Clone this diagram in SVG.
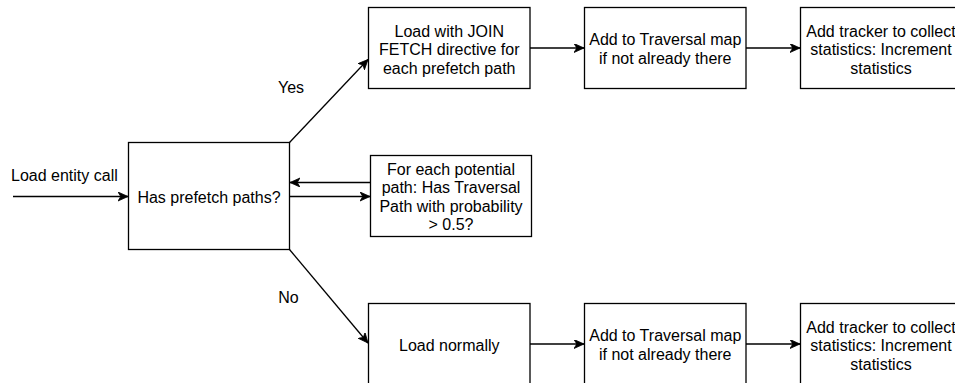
<svg xmlns="http://www.w3.org/2000/svg" width="955" height="383" viewBox="0 0 955 383">
  <style>
    .box { fill: #ffffff; stroke: #000000; stroke-width: 1.3; }
    .t { font-family: "Liberation Sans", Arial, Helvetica, sans-serif; font-size: 16px; fill: #000000; text-anchor: middle; }
    .lbl { font-family: "Liberation Sans", Arial, Helvetica, sans-serif; font-size: 16px; fill: #000000; }
    .edge { fill: none; stroke: #000000; stroke-width: 1.3; marker-end: url(#arrow); }
  </style>
  <defs>
    <marker id="arrow" markerUnits="userSpaceOnUse" markerWidth="12" markerHeight="12" refX="10" refY="4.5" orient="auto">
      <path d="M0,0 L10,4.5 L0,9 L2.8,4.5 Z" fill="#000000" stroke="#000000" stroke-width="0.8"/>
    </marker>
  </defs>
  <rect width="955" height="383" fill="#ffffff"/>

  <g id="connectors">
    <path class="edge" d="M13,196.5 L128,196.5"/>
    <path class="edge" d="M289.5,142.5 L368,59.5"/>
    <path class="edge" d="M289.5,249.5 L368,343"/>
    <path class="edge" d="M370.5,182.5 L290,182.5"/>
    <path class="edge" d="M289.5,196.5 L370,196.5"/>
    <path class="edge" d="M530,48 L584,48"/>
    <path class="edge" d="M746,48 L800,48"/>
    <path class="edge" d="M530,344 L584,344"/>
    <path class="edge" d="M746,344 L800,344"/>
    <text class="lbl" x="11" y="181">Load entity call</text>
    <text class="t" x="291" y="92.5">Yes</text>
    <text class="t" x="288.5" y="302.5">No</text>
  </g>

  <g id="n_has">
    <rect class="box" x="128.5" y="142.5" width="161" height="107"/>
    <text class="t" x="209" y="202.5">Has prefetch paths?</text>
  </g>

  <g id="n_join">
    <rect class="box" x="368.5" y="7.5" width="161.5" height="81"/>
    <text class="t" x="449.25" y="36.5">Load with JOIN</text>
    <text class="t" x="449.25" y="55">FETCH directive for</text>
    <text class="t" x="449.25" y="73.5">each prefetch path</text>
  </g>

  <g id="n_trav1">
    <rect class="box" x="584.5" y="7.5" width="161.5" height="81"/>
    <text class="t" x="665.25" y="45.25">Add to Traversal map</text>
    <text class="t" x="665.25" y="63.75">if not already there</text>
  </g>

  <g id="n_track1">
    <rect class="box" x="800.5" y="7.5" width="161" height="81"/>
    <text class="t" x="881" y="36.5">Add tracker to collect</text>
    <text class="t" x="881" y="55">statistics: Increment</text>
    <text class="t" x="881" y="73.5">statistics</text>
  </g>

  <g id="n_foreach">
    <rect class="box" x="370.5" y="155.5" width="161" height="81"/>
    <text class="t" x="451" y="174.5">For each potential</text>
    <text class="t" x="451" y="193">path: Has Traversal</text>
    <text class="t" x="451" y="211.5">Path with probability</text>
    <text class="t" x="451" y="230">&gt; 0.5?</text>
  </g>

  <g id="n_normal">
    <rect class="box" x="368.5" y="303.5" width="161.5" height="81"/>
    <text class="t" x="449.25" y="350.5">Load normally</text>
  </g>

  <g id="n_trav2">
    <rect class="box" x="584.5" y="303.5" width="161.5" height="81"/>
    <text class="t" x="665.25" y="341.25">Add to Traversal map</text>
    <text class="t" x="665.25" y="359.75">if not already there</text>
  </g>

  <g id="n_track2">
    <rect class="box" x="800.5" y="303.5" width="161" height="81"/>
    <text class="t" x="881" y="332.5">Add tracker to collect</text>
    <text class="t" x="881" y="351">statistics: Increment</text>
    <text class="t" x="881" y="369.5">statistics</text>
  </g>
</svg>
